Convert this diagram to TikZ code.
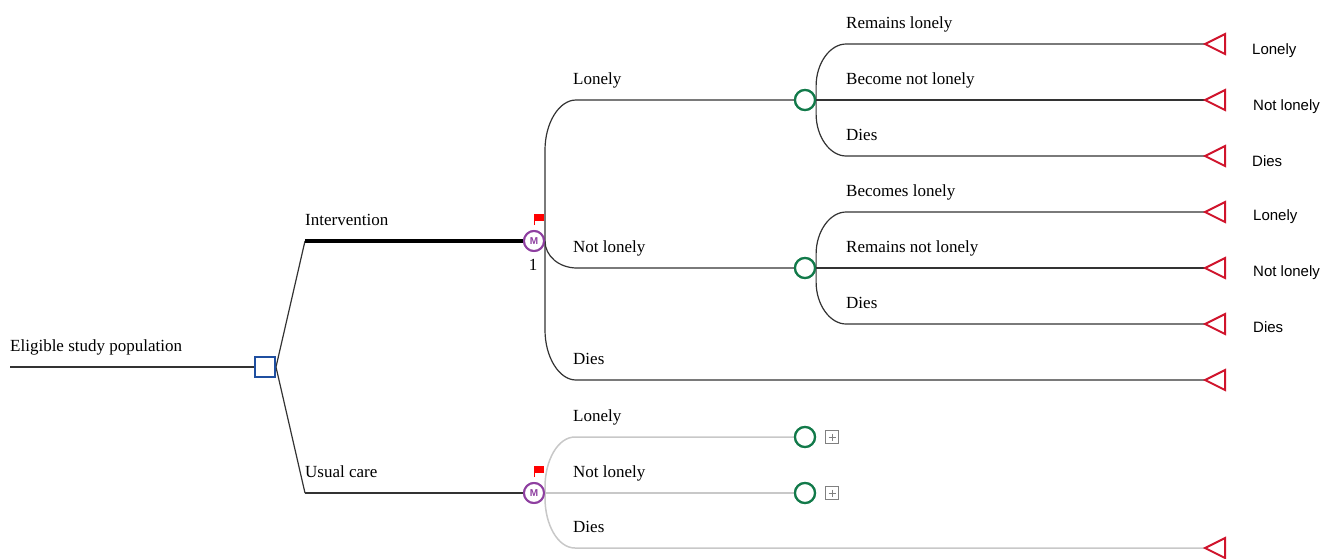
\documentclass[tikz,border=0pt]{standalone}
\usepackage{fontspec}
\setmainfont{Liberation Serif}
\newfontfamily\lsans{Liberation Sans}
\definecolor{dblue}{HTML}{1F4FA0}
\definecolor{dgreen}{HTML}{127A4A}
\definecolor{mpurple}{HTML}{8E3FA0}
\definecolor{tred}{HTML}{D0142C}
\definecolor{lgray}{HTML}{C8C8C8}
\definecolor{lline}{HTML}{333333}
\begin{document}
\begin{tikzpicture}[x=1pt,y=-1pt,
  every node/.style={font=\fontsize{17}{20}\selectfont},
  conn/.style={draw=lline,line width=1.2},
  gconn/.style={draw=lgray,line width=1.5},
  decbox/.style={draw=dblue,line width=2,minimum size=20,inner sep=0,fill=white},
  chance/.style={circle,draw=dgreen,line width=2.2,minimum size=20,inner sep=0,fill=white},
  markov/.style={circle,draw=mpurple,line width=2,minimum size=20,inner sep=0,fill=white,
    text=mpurple,font=\lsans\bfseries\fontsize{10}{10}\selectfont},
  endtri/.style={draw=tred,line width=2,fill=white,line join=miter},
  blabel/.style={anchor=base west,inner sep=0},
  rlabel/.style={anchor=base west,inner sep=0,font=\lsans\fontsize{15}{18}\selectfont},
  plusbox/.style={draw=gray,line width=0.8,minimum size=13,inner sep=0,
    path picture={\draw[gray,line width=0.8]
      ([yshift=-3]path picture bounding box.north) -- ([yshift=3]path picture bounding box.south)
      ([xshift=3]path picture bounding box.west) -- ([xshift=-3]path picture bounding box.east);}},
  flag/.style={fill=red}
]
\useasboundingbox (0,0) rectangle (1333,558);

% coordinates
\coordinate (root) at (10,367);
\coordinate (i1) at (305,241);
\coordinate (u1) at (305,493);
% end triangles (apex coordinates)
\foreach \n/\y in {t1/44,t2/100,t3/156,t4/212,t5/268,t6/324,t7/380,t8/548}
  \coordinate (\n) at (1205,\y);

\node[decbox] (sq) at (265,367) {};
\node[markov] (m1) at (534,241) {M};
\node[markov] (m2) at (534,493) {M};
\node[chance] (c1) at (805,100) {};
\node[chance] (c2) at (805,268) {};
\node[chance] (c3) at (805,437) {};
\node[chance] (c4) at (805,493) {};

% connectors
\draw[conn] (root) -- (sq.west);
\draw[conn] (sq.east) -- (i1);
\draw[conn] (sq.east) -- (u1);
\draw[draw=black,line width=4] (i1) -- (m1.west);
\draw[conn] (u1) -- (m2.west);

\draw[conn] (m1.east) -- ++(0,-91) .. controls +(0,-27) and +(-17,0) .. ++(31,-50) -- (c1.west);
\draw[conn] (m1.east) .. controls +(0,15) and +(-18,0) .. ++(32,27) -- (c2.west);
\draw[conn] (m1.east) -- ++(0,89) .. controls +(0,27) and +(-17,0) .. ++(31,50) -- (t7);

\draw[conn] (c1.east) -- ++(0,-14) .. controls +(0,-23) and +(-16,0) .. ++(30,-42) -- (t1);
\draw[conn] (c1.east) -- (t2);
\draw[conn] (c1.east) -- ++(0,14) .. controls +(0,23) and +(-16,0) .. ++(30,42) -- (t3);
\draw[conn] (c2.east) -- ++(0,-14) .. controls +(0,-23) and +(-16,0) .. ++(30,-42) -- (t4);
\draw[conn] (c2.east) -- (t5);
\draw[conn] (c2.east) -- ++(0,14) .. controls +(0,23) and +(-16,0) .. ++(30,42) -- (t6);

\draw[gconn] (m2.east) -- ++(0,-6) .. controls +(0,-27) and +(-17,0) .. ++(30,-50) -- (c3.west);
\draw[gconn] (m2.east) -- (c4.west);
\draw[gconn] (m2.east) -- ++(0,5) .. controls +(0,27) and +(-17,0) .. ++(30,50) -- (t8);

% redraw nodes on top
\node[decbox] at (sq) {};
\node[markov] at (m1) {M};
\node[markov] at (m2) {M};
\foreach \c in {c1,c2,c3,c4} \node[chance] at (\c) {};

% triangles
\foreach \n in {t1,t2,t3,t4,t5,t6,t7,t8}
  \draw[endtri] (\n) -- ++(20,-10) -- ++(0,20) -- cycle;

% flags
\draw[red,line width=1] (534.5,225) -- (534.5,214.5);
\fill[flag] (534,214) rectangle (544,221);
\draw[red,line width=1] (534.5,477) -- (534.5,466.5);
\fill[flag] (534,466) rectangle (544,473);

% plus boxes
\node[plusbox] (p1) at (832,437) {};
\node[plusbox] (p2) at (832,493) {};

% labels
\node[blabel] (l0) at (10,351) {Eligible study population};
\node[blabel] (l1) at (305,225) {Intervention};
\node[blabel] (l2) at (305,477) {Usual care};
\node[anchor=base,inner sep=0] (one) at (533,270) {1};

\node[blabel] (a1) at (573,84) {Lonely};
\node[blabel] (a2) at (573,252) {Not lonely};
\node[blabel] (a3) at (573,364) {Dies};
\node[blabel] (a4) at (573,421) {Lonely};
\node[blabel] (a5) at (573,477) {Not lonely};
\node[blabel] (a6) at (573,532) {Dies};

\node[blabel] (b1) at (846,28) {Remains lonely};
\node[blabel] (b2) at (846,84) {Become not lonely};
\node[blabel] (b3) at (846,140) {Dies};
\node[blabel] (b4) at (846,196) {Becomes lonely};
\node[blabel] (b5) at (846,252) {Remains not lonely};
\node[blabel] (b6) at (846,308) {Dies};

\node[rlabel] (r1) at (1252,54) {Lonely};
\node[rlabel] (r2) at (1253,110) {Not lonely};
\node[rlabel] (r3) at (1252,166) {Dies};
\node[rlabel] (r4) at (1253,220) {Lonely};
\node[rlabel] (r5) at (1253,276) {Not lonely};
\node[rlabel] (r6) at (1253,332) {Dies};
\end{tikzpicture}
\end{document}
